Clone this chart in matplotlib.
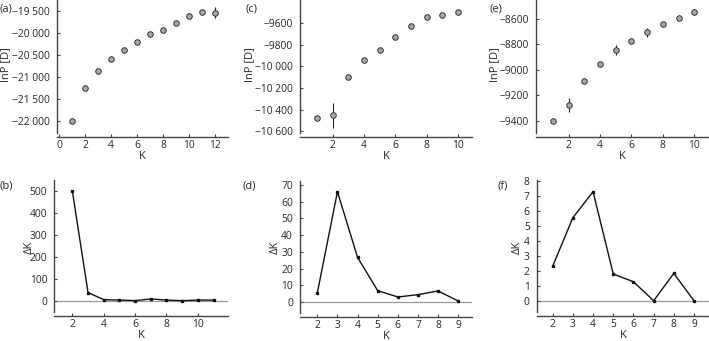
"""Evanno plots: mean lnP(D) and delta K for three STRUCTURE runs."""
import matplotlib
matplotlib.use("Agg")
import matplotlib.pyplot as plt
from matplotlib.ticker import FuncFormatter

plt.rcParams['font.family'] = ['Open Sans', 'DejaVu Sans']

# (a) / (b)
k_a = [1, 2, 3, 4, 5, 6, 7, 8, 9, 10, 11, 12]
lnp_a = [-22000, -21250, -20860, -20595, -20390, -20217, -20035, -19938, -19772, -19613, -19530, -19545]
err_a = [15, 20, 25, 30, 35, 35, 30, 35, 50, 50, 60, 125]
dk_k_a = [2, 3, 4, 5, 6, 7, 8, 9, 10, 11]
dk_a = [500, 37, 5, 3, 0.5, 8, 3, 0.3, 3, 3]

# (c) / (d)
k_c = [1, 2, 3, 4, 5, 6, 7, 8, 9, 10]
lnp_c = [-10482, -10451, -10101, -9944, -9848, -9724, -9622, -9544, -9523, -9495]
err_c = [8, 116, 8, 8, 10, 10, 12, 12, 18, 25]
dk_k_c = [2, 3, 4, 5, 6, 7, 8, 9]
dk_c = [5.4, 66, 26.7, 6.8, 3.0, 4.4, 6.6, 0.6]

# (e) / (f)
k_e = [1, 2, 3, 4, 5, 6, 7, 8, 9, 10]
lnp_e = [-9400, -9275, -9086, -8953, -8845, -8773, -8705, -8642, -8595, -8547]
err_e = [6, 52, 12, 10, 40, 15, 35, 10, 15, 25]
dk_k_e = [2, 3, 4, 5, 6, 7, 8, 9]
dk_e = [2.31, 5.54, 7.27, 1.80, 1.28, 0.02, 1.84, 0.01]

W, H = 709, 341
TXT = '#262626'


def fmt(v, pos):
    v = int(round(v))
    s = str(abs(v))
    if len(s) > 4:
        s = s[:-3] + ' ' + s[-3:]
    return ('\u2212' if v < 0 else '') + s


def make_axes(fig, x0, x1, y0, y1):
    # pixel box -> figure fraction
    return fig.add_axes([x0 / W, 1 - y1 / H, (x1 - x0) / W, (y1 - y0) / H])


def style(ax, xlim, ylim, xticks, yticks):
    ax.set_xlim(*xlim)
    ax.set_ylim(*ylim)
    ax.set_xticks(xticks)
    ax.set_yticks(yticks)
    ax.yaxis.set_major_formatter(FuncFormatter(fmt))
    for s in ('top', 'right'):
        ax.spines[s].set_visible(False)
    ax.spines['bottom'].set_position(('outward', 3))
    for s in ('left', 'bottom'):
        ax.spines[s].set_color('#444444')
        ax.spines[s].set_linewidth(1.0)
    ax.tick_params(direction='in', length=2, width=0.8, color='#444444',
                   labelsize=7.4, labelcolor=TXT)
    ax.tick_params(axis='x', pad=2)
    ax.tick_params(axis='y', pad=5)
    ax.set_xlabel('K', fontsize=8, color=TXT, labelpad=0)
    ax.patch.set_alpha(0)


def top_panel(ax, k, lnp, err, xlim, ylim, xticks, yticks, ylab_x):
    ax.errorbar(k, lnp, yerr=err, fmt='o', ms=4, mfc='#a8a8a8', mec='#333333',
                mew=0.7, ecolor='#222222', elinewidth=0.8, capsize=0)
    style(ax, xlim, ylim, xticks, yticks)
    ax.set_ylabel('lnP [D]', fontsize=8, color=TXT)
    # x is the right edge of the rotated label
    ax.yaxis.set_label_coords(ylab_x / W, 1 - 65 / H, transform=fig.transFigure)


def bottom_panel(ax, k, dk, xlim, ylim, xticks, yticks, ylab_x):
    ax.axhline(0, color='#999999', lw=0.9, zorder=1)
    ax.plot(k, dk, '-s', color='#111111', lw=1.0, ms=2, zorder=3)
    style(ax, xlim, ylim, xticks, yticks)
    ax.set_ylabel('\u0394K', fontsize=8, color=TXT)
    ax.yaxis.set_label_coords(ylab_x / W, 1 - 247 / H, transform=fig.transFigure)


fig = plt.figure(figsize=(W / 100, H / 100), dpi=100)

ax = make_axes(fig, 57, 228, 0, 133)
top_panel(ax, k_a, lnp_a, err_a, (-0.15, 13.0), (-22272, -19257),
          range(0, 13, 2), range(-22000, -19499, 500), 11)
ax = make_axes(fig, 300, 472.3, 0, 133.3)
top_panel(ax, k_c, lnp_c, err_c, (-0.08, 10.9), (-10620, -9383),
          range(2, 11, 2), range(-10600, -9599, 200), 255)
ax = make_axes(fig, 535.7, 709, 0, 133.3)
top_panel(ax, k_e, lnp_e, err_e, (-0.1, 10.94), (-9497, -8451),
          range(2, 11, 2), range(-9400, -8599, 200), 500)

ax = make_axes(fig, 54.3, 228, 180, 311.7)
bottom_panel(ax, dk_k_a, dk_a, (0.85, 11.92), (-50, 550),
             range(2, 11, 2), range(0, 501, 100), 35)
ax = make_axes(fig, 300, 472.3, 180.7, 312.7)
bottom_panel(ax, dk_k_c, dk_c, (1.14, 9.70), (-6.4, 72.6),
             range(2, 10), range(0, 71, 10), 281)
ax = make_axes(fig, 536.7, 709, 180, 311.7)
bottom_panel(ax, dk_k_e, dk_e, (1.21, 9.74), (-0.71, 8.05),
             range(2, 10), range(0, 9), 523)

# panel letters
for x, y, lab in [(0, 9, '(a)'), (0, 186, '(b)'), (245, 9, '(c)'),
                  (242, 186, '(d)'), (490, 9, '(e)'), (497, 186, '(f)')]:
    fig.text(x / W, 1 - y / H, lab, fontsize=8, color=TXT, va='center', ha='left')

fig.savefig('out.png', dpi=100)
